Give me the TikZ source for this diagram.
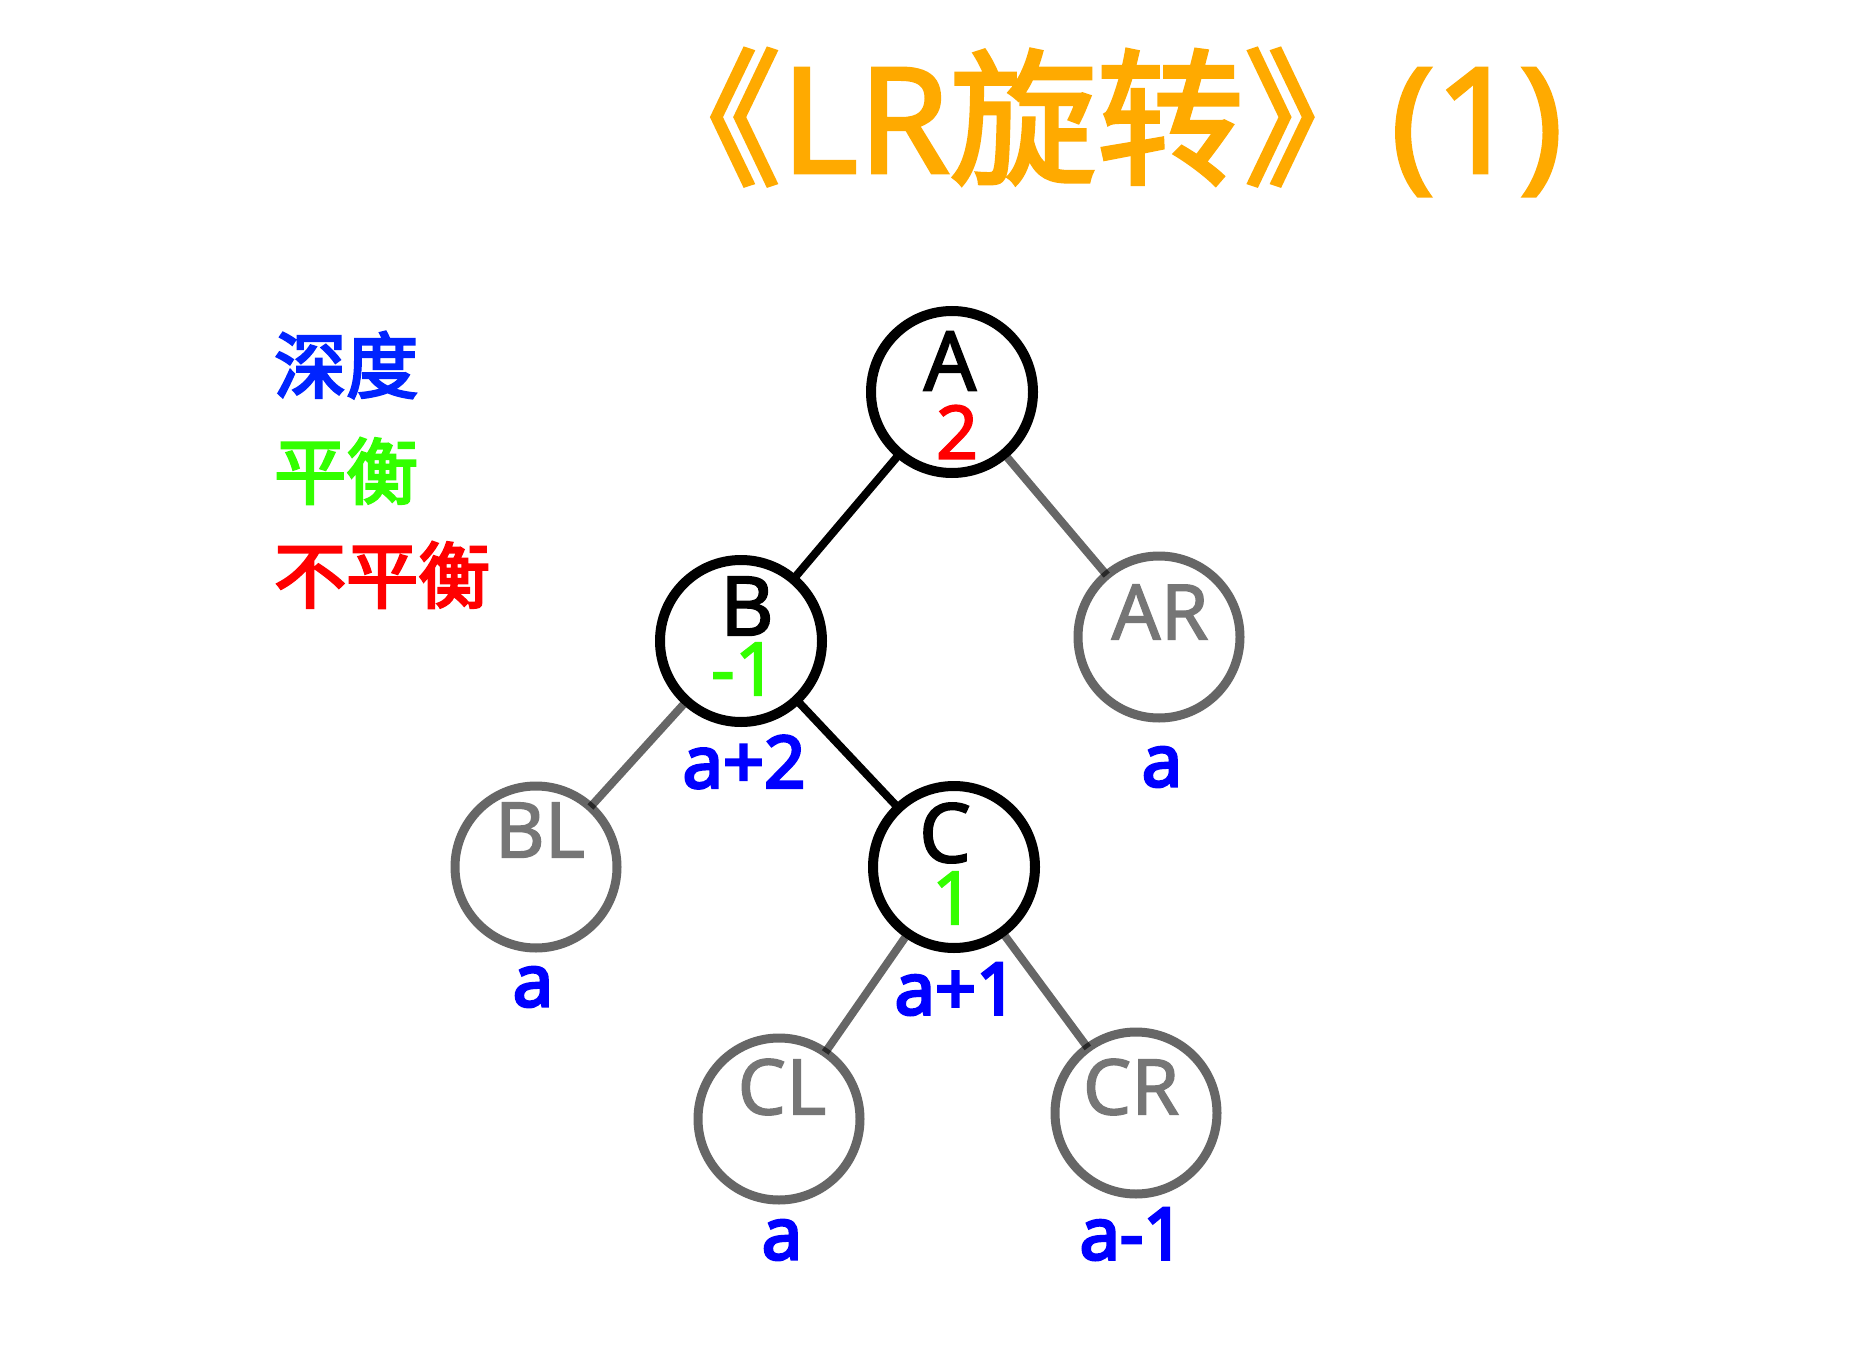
\documentclass[tikz,border=0pt]{standalone}
\usepackage{fontspec}
\setmainfont{Noto Sans}
\newfontfamily\cjkf{Noto Sans CJK SC}
\newfontfamily\latf{Noto Sans}
\newcommand\tcjk{\cjkf\addfontfeatures{FakeBold=2.5}}
\newcommand\tlat{\latf\addfontfeatures{FakeBold=2}}
\definecolor{ttl}{RGB}{255,170,0}
\definecolor{dep}{RGB}{0,0,255}
\definecolor{lgblue}{RGB}{0,36,255}
\definecolor{bal}{RGB}{51,255,0}
\definecolor{unb}{RGB}{255,0,0}
\definecolor{gry}{RGB}{102,102,102}
\definecolor{gtxt}{RGB}{118,118,118}
\begin{document}
\begin{tikzpicture}[x=1pt,y=-1pt,
  tnode/.style={circle,draw=black,line width=10pt,minimum size=162pt,inner sep=0pt,outer sep=0pt},
  gnode/.style={circle,draw=gry,line width=9pt,minimum size=162pt,inner sep=0pt,outer sep=0pt},
  keytxt/.style={inner sep=0pt,font=\fontsize{82}{90}\selectfont\latf\addfontfeatures{FakeBold=2.2},text=black},
  gtxtst/.style={inner sep=0pt,font=\fontsize{77}{86}\selectfont\latf\addfontfeatures{FakeBold=1.6},text=gtxt},
  balnum/.style={inner sep=0pt,font=\fontsize{74}{80}\selectfont\latf\addfontfeatures{FakeBold=2.2},text=bal},
  unbnum/.style={inner sep=0pt,font=\fontsize{74}{80}\selectfont\latf\addfontfeatures{FakeBold=2.2},text=unb},
  deptxt/.style={inner sep=0pt,font=\fontsize{72}{80}\selectfont\latf\addfontfeatures{FakeBold=4},text=dep},
  legtxt/.style={inner sep=0pt,anchor=west,font=\fontsize{72}{80}\selectfont\cjkf\addfontfeatures{FakeBold=3.5}},
  bedge/.style={draw=black,line width=8pt},
  gedge/.style={draw=black,draw opacity=0.6,line width=8pt,shorten <=5pt}
]
\useasboundingbox[fill=white] (0,0) rectangle (1874,1356);

% title
\node[inner sep=0pt,anchor=base west,text=ttl,font=\fontsize{147}{160}\selectfont] (title) at (634,173)
  {{\tcjk 《}{\tlat LR}{\tcjk 旋转》}{\tlat (1)}};

% legend
\node[legtxt,text=lgblue] (lg1) at (274,365) {深度};
\node[legtxt,text=bal] (lg2) at (274,471) {平衡};
\node[legtxt,text=unb] (lg3) at (274,575) {不平衡};

% nodes
\node[tnode] (A) at (952,392) {};
\node[tnode] (B) at (741,641) {};
\node[gnode] (AR) at (1159,637) {};
\node[gnode] (BL) at (536,867) {};
\node[tnode] (C) at (954,867) {};
\node[gnode] (CL) at (779,1119) {};
\node[gnode] (CR) at (1136,1113) {};

% edges
\draw[bedge] (A) -- (B);
\draw[bedge] (B) -- (C);
\draw[gedge] (A) -- (AR);
\draw[gedge] (B) -- (BL);
\draw[gedge] (C) -- (CL);
\draw[gedge] (C) -- (CR);

% texts in nodes
\node[keytxt] (At) at (950,361) {A};
\node[unbnum] (An) at (957,432) {2};
\node[keytxt] (Bt) at (747,606) {B};
\node[balnum] (Bn) at (744,669) {-1};
\node[keytxt] (Ct) at (945,833) {C};
\node[balnum] (Cn) at (953,898) {1};
\node[gtxtst] (ARt) at (1160,612) {AR};
\node[gtxtst] (BLt) at (540,830) {BL};
\node[gtxtst] (CLt) at (782,1087) {CL};
\node[gtxtst] (CRt) at (1131,1087) {CR};

% depth labels
\node[deptxt] (Bd) at (744,762) {a+2};
\node[deptxt] (ARd) at (1162,767) {a};
\node[deptxt] (BLd) at (533,987) {a};
\node[deptxt] (Cd) at (956,989) {a+1};
\node[deptxt] (CLd) at (782,1240) {a};
\node[deptxt] (CRd) at (1132,1234) {a-1};
\end{tikzpicture}
\end{document}
